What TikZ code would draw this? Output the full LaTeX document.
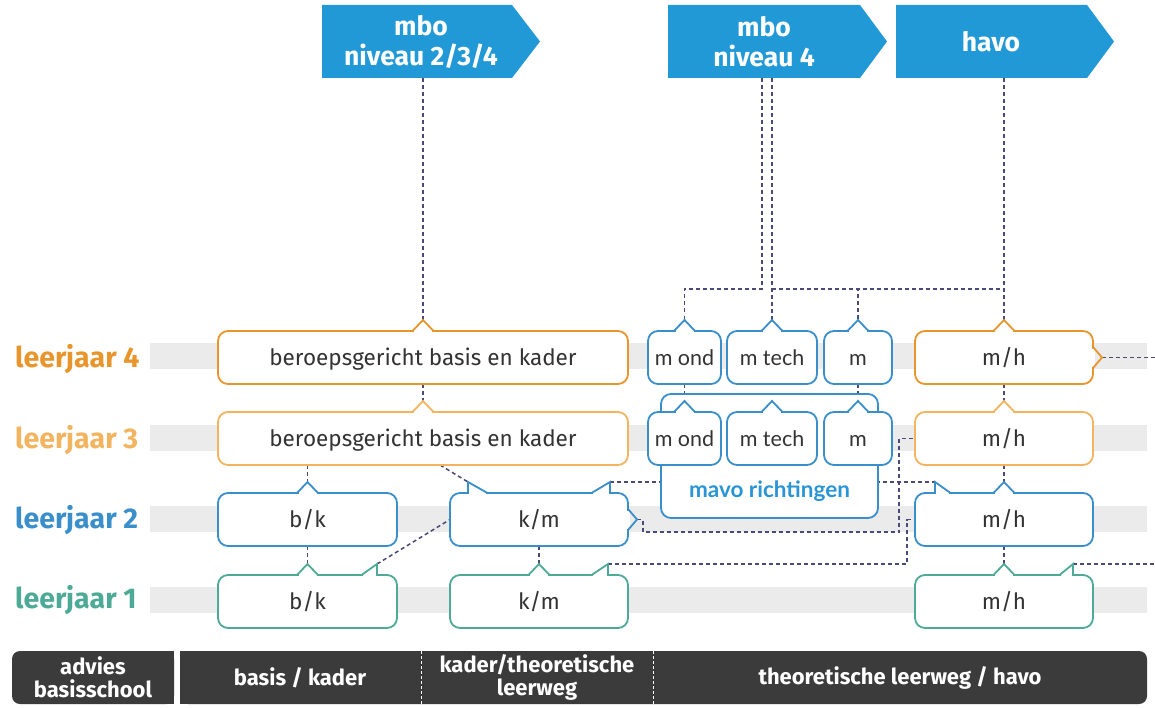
\documentclass[tikz,border=0pt]{standalone}
\usepackage{fontspec}
\setmainfont{Fira Sans}
\newfontfamily\latofont{Lato}
\usetikzlibrary{calc}
\definecolor{cfour}{HTML}{E8952B}
\definecolor{cthree}{HTML}{F2B45E}
\definecolor{ctwo}{HTML}{3A8FCB}
\definecolor{cone}{HTML}{4DAA97}
\definecolor{arrowblue}{HTML}{2299D7}
\definecolor{bandgrey}{HTML}{EBEBEB}
\definecolor{dashcol}{HTML}{4A4978}
\definecolor{barcol}{HTML}{3B3B3B}
\definecolor{txtcol}{HTML}{333333}
\definecolor{mavotxt}{HTML}{2A95D5}
\newcommand\tnotch[3]{%
  \fill[white] (#2-9,#3-1.6) rectangle (#2+9,#3+1.6);
  \draw[#1, line width=1.8pt, line join=miter] (#2-10.5,#3) -- (#2,#3-11) -- (#2+10.5,#3);}
\newcommand\rflag[4]{% colour, x0 (slant start), x1 (vertical), top
  \fill[white] (#2+1,#4-1.6) rectangle (#3-1,#4+1.6);
  \draw[#1, line width=1.8pt, line join=miter] (#2-0.5,#4) -- (#3,#4-11) -- (#3,#4+0.9);}
\newcommand\lflag[4]{% colour, x0 (vertical), x1 (slant end), top
  \fill[white] (#2+1,#4-1.6) rectangle (#3-1,#4+1.6);
  \draw[#1, line width=1.8pt, line join=miter] (#2,#4+0.9) -- (#2,#4-11) -- (#3+0.5,#4);}
\newcommand\enotch[3]{% colour, right x, y
  \fill[white] (#2-1.6,#3-9) rectangle (#2+1.6,#3+9);
  \draw[#1, line width=1.8pt, line join=miter] (#2,#3-10.5) -- (#2+9,#3) -- (#2,#3+10.5);}
\begin{document}
\begin{tikzpicture}[x=1pt,y=-1pt,
  lbl/.style={anchor=base west, inner sep=0pt, font=\fontsize{28.5}{30}\selectfont\bfseries},
  box/.style={draw=#1, line width=1.8pt, rounded corners=10pt, fill=white, inner sep=0pt,
    text=txtcol, font=\fontsize{22.5}{24}\selectfont, text height=18pt, text depth=2pt,
    minimum height=53pt},
  mbox/.style={box=ctwo, font=\latofont\fontsize{21.5}{24}\selectfont},
  conn/.style={draw=dashcol, line width=1.5pt, dash pattern=on 4pt off 3pt},
  arrtxt/.style={text=white, font=\fontsize{26.5}{30}\selectfont\bfseries, align=center},
  bartxt/.style={text=white, font=\fontsize{22}{23}\selectfont\bfseries, align=center},
]
\useasboundingbox (0,0) rectangle (1155,708);
\fill[white] (0,0) rectangle (1155,708);
% grey bands
\foreach \yy in {356,437.5,519,600} \fill[bandgrey] (150,\yy-13) rectangle (1147,\yy+13);
% labels
\node[lbl, text=cfour] (lj4) at (15,367) {leerjaar 4};
\node[lbl, text=cthree] (lj3) at (15,448) {leerjaar 3};
\node[lbl, text=ctwo] (lj2) at (15,528) {leerjaar 2};
\node[lbl, text=cone] (lj1) at (15,608) {leerjaar 1};
% top arrows
\fill[arrowblue] (322,5) -- (512,5) -- (540,41.5) -- (512,78) -- (322,78) -- cycle;
\node[arrtxt] (A1) at (421,42) {mbo\\niveau 2/3/4};
\fill[arrowblue] (668,5) -- (860,5) -- (887,41.5) -- (860,78) -- (668,78) -- cycle;
\node[arrtxt] (A2) at (764,42) {mbo\\niveau 4};
\fill[arrowblue] (896,5) -- (1087,5) -- (1114,41.5) -- (1087,78) -- (896,78) -- cycle;
\node[arrtxt] (A3) at (991,41.5) {havo};
\coordinate (A1b) at (423,78);
\coordinate (A2l) at (762,78);
\coordinate (A2r) at (772,78);
\coordinate (A3b) at (1004,78);
% notch peaks
\coordinate (ber4p) at (423,320);
\coordinate (ber3p) at (423,401);
\coordinate (ber3d) at (440,465);
\coordinate (mond4p) at (684.5,320);
\coordinate (mtech4p) at (772,320);
\coordinate (m4p) at (858,320);
\coordinate (mond3p) at (684.5,401);
\coordinate (m3p) at (858,401);
\coordinate (mh4p) at (1004,320);
\coordinate (mh4e) at (1102,357.5);
\coordinate (mh3p) at (1004,401);
\coordinate (bk2p) at (307.5,482);
\coordinate (km2a) at (468,482);
\coordinate (km2b) at (610,482);
\coordinate (km2e) at (637,519.5);
\coordinate (mh2p) at (1004,482);
\coordinate (mh2f) at (935,482);
\coordinate (bk1p) at (307.5,564);
\coordinate (bk1f) at (377,564);
\coordinate (km1p) at (539,564);
\coordinate (km1f) at (608,564);
\coordinate (mh1p) at (1004,564);
\coordinate (mh1f) at (1073,564);
\coordinate (edgeA) at (1155,357.5);
\coordinate (edgeB) at (1155,564);
\coordinate (jn) at (772,289);
% connectors
\draw[conn] (A1b) -- (ber4p);
\draw[conn] (A3b) -- (mh4p);
\draw[conn] (A2l) -- ++(0,211) -| (mond4p);
\draw[conn] (A2r) -- (mtech4p);
\draw[conn] (jn) -| (m4p);
\draw[conn] (jn) -- (jn -| A3b);
\draw[conn] (423,384) -- (ber3p);
\draw[conn] (1004,384) -- (mh3p);
\draw[conn] (684.5,384) -- (mond3p);
\draw[conn] (858,384) -- (m3p);
\draw[conn] (ber3d -| bk2p) -- (bk2p);
\draw[conn] (ber3d) -- (km2a);
\draw[conn] (1004,465) -- (mh2p);
\draw[conn] (km2b) -- (mh2f);
\draw[conn] (km2e) -- ++(6,0) -- ++(0,12.5) -| (899,438.5) -- (915,438.5);
\draw[conn] (bk1f) -- (450,519.5);
\draw[conn] (307.5,546) -- (bk1p);
\draw[conn] (539,546) -- (km1p);
\draw[conn] (1004,546) -- (mh1p);
\draw[conn] (km1f) -| (907,519.5) -- (915,519.5);
\draw[conn] (mh4e) -- (edgeA);
\draw[conn] (mh1f) -- (edgeB);
% leerjaar 4
\node[box=cfour, minimum width=410pt] (ber4) at (423,357.5) {beroepsgericht basis en kader};
\tnotch{cfour}{423}{331}
\node[mbox, minimum width=73pt] (mond4) at (684.5,357.5) {m ond};
\tnotch{ctwo}{684.5}{331}
\node[mbox, minimum width=90pt] (mtech4) at (772,357.5) {m tech};
\tnotch{ctwo}{772}{331}
\node[mbox, minimum width=68pt] (m4) at (858,357.5) {m};
\tnotch{ctwo}{858}{331}
\node[box=cfour, minimum width=178pt] (mh4) at (1004,357.5) {m/h};
\tnotch{cfour}{1004}{331}
\enotch{cfour}{1093}{357.5}
% leerjaar 3
\node[box=cthree, minimum width=410pt] (ber3) at (423,438.5) {beroepsgericht basis en kader};
\tnotch{cthree}{423}{412}
\node[box=cthree, minimum width=178pt] (mh3) at (1004,438.5) {m/h};
\tnotch{cthree}{1004}{412}
% leerjaar 2
\node[box=ctwo, minimum width=179pt] (bk2) at (307.5,519.5) {b/k};
\tnotch{ctwo}{307.5}{493}
\node[box=ctwo, minimum width=178pt] (km2) at (539,519.5) {k/m};
\lflag{ctwo}{468}{487}{493}
\rflag{ctwo}{592}{610}{493}
\enotch{ctwo}{628}{519.5}
\node[box=ctwo, minimum width=178pt] (mh2) at (1004,519.5) {m/h};
\tnotch{ctwo}{1004}{493}
\lflag{ctwo}{935}{950}{493}
% leerjaar 1
\node[box=cone, minimum width=179pt] (bk1) at (307.5,601.5) {b/k};
\tnotch{cone}{307.5}{575}
\rflag{cone}{362}{377}{575}
\node[box=cone, minimum width=178pt] (km1) at (539,601.5) {k/m};
\tnotch{cone}{539}{575}
\rflag{cone}{592}{608}{575}
\node[box=cone, minimum width=178pt] (mh1) at (1004,601.5) {m/h};
\tnotch{cone}{1004}{575}
\rflag{cone}{1060}{1073}{575}
% mavo richtingen
\node[draw=ctwo, line width=1.8pt, rounded corners=10pt, fill=white, minimum width=217pt, minimum height=124pt, inner sep=0pt] (mavo) at (769.5,456) {};
\node[text=mavotxt, font=\latofont\fontsize{22.5}{24}\selectfont\bfseries, text height=15pt, text depth=4pt] (mavot) at (769.5,492) {mavo richtingen};
\node[mbox, minimum width=73pt] (mond3) at (684.5,438.5) {m ond};
\tnotch{ctwo}{684.5}{412}
\node[mbox, minimum width=90pt] (mtech3) at (772,438.5) {m tech};
\tnotch{ctwo}{772}{412}
\node[mbox, minimum width=68pt] (m3) at (858,438.5) {m};
\tnotch{ctwo}{858}{412}
% bottom bar
\fill[barcol, rounded corners=8pt] (12,651) rectangle (174,704);
\fill[barcol] (150,651) rectangle (174,704);
\fill[barcol, rounded corners=8pt] (180,651) rectangle (1147,704);
\fill[barcol] (180,651) rectangle (210,704);
\draw[white, line width=1pt, dash pattern=on 3pt off 2pt] (421,651) -- (421,704);
\draw[white, line width=1pt, dash pattern=on 3pt off 2pt] (653,651) -- (653,704);
\node[bartxt] (bt1) at (93,677.5) {advies\\basisschool};
\node[bartxt] (bt2) at (300,677.5) {basis / kader};
\node[bartxt] (bt3) at (537,677.5) {kader/theoretische\\leerweg};
\node[bartxt] (bt4) at (900,677.5) {theoretische leerweg / havo};
\end{tikzpicture}
\end{document}
